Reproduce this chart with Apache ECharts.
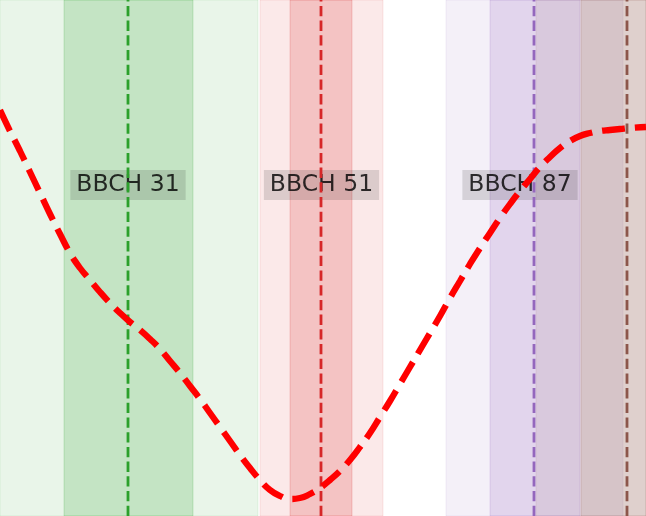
<!DOCTYPE html>
<html>
<head>
<meta charset="utf-8">
<script src="https://cdn.jsdelivr.net/npm/echarts@6/dist/echarts.min.js"></script>
<style>html,body{margin:0;padding:0;background:#fff;}#c{width:646px;height:516px;}</style>
</head>
<body>
<div id="c"></div>
<script>
// Curve (x position, value)
var curveX = [0,10,20,30,40,50,60,70,80,90,100,110,120,130,140,150,160,170,180,190,200,210,220,230,240,250,260,270,280,290,300,310,320,330,340,350,360,370,380,390,400,410,420,430,440,450,460,470,480,490,500,510,520,530,540,550,560,570,580,590,600,610,620,630,646];
var curvePix = [110,131,151,172,193,214,234,253,268,280,292,303,313,322,330,339,349,361,373,386,399,413,427,441,455,468,480,490,496,499,498,494,488,480,471,460,447,433,417,401,384,367,350,333,316,298,281,264,248,233,218,204,191,179,167,157,148,141,136,133,131,130,129,128,127];
var curveY = curvePix.map(function (p) { return 516 - p; });

// Growth stages
var stageNames = ["BBCH 31", "BBCH 51", "BBCH 87", ""];
var stageCenters = [128, 321, 534, 627];
var stageInner = [[64, 193], [290, 352], [490, 580], [581, 673]];
var stageOuter = [[-1, 258], [260, 383], [446, 623], [536, 718]];
var labelX = [128, 321.5, 520];
var labelY = [331, 331, 331];

var stageRGB = ["44,160,44", "214,39,40", "148,103,189", "140,86,75"];

var areas = [];
for (var i = 0; i < stageCenters.length; i++) {
  var c1 = 'rgba(' + stageRGB[i] + ',0.1)';
  var c2 = 'rgba(' + stageRGB[i] + ',0.2)';
  areas.push([{xAxis: stageOuter[i][0], itemStyle: {color: c1, borderColor: c1, borderWidth: 1}}, {xAxis: stageOuter[i][1]}]);
  areas.push([{xAxis: stageInner[i][0], itemStyle: {color: c2, borderColor: c2, borderWidth: 1}}, {xAxis: stageInner[i][1]}]);
}
var labelData = [];
for (var i = 0; i < labelX.length; i++) {
  labelData.push({value: [labelX[i], labelY[i]], name: stageNames[i]});
}
var curveData = curveX.map(function (x, i) { return [x, curveY[i]]; });

var series = [
  {
    type: 'line', data: [], z: 1, silent: true,
    markArea: {silent: true, data: areas}
  },
  {
    type: 'scatter', z: 2, symbolSize: 0, data: labelData, silent: true,
    label: {
      show: true, position: 'inside', formatter: '{b}',
      fontFamily: 'DejaVu Sans', fontSize: 23.5, color: '#000',
      textBorderWidth: 0, textShadowBlur: 0,
      backgroundColor: 'rgba(0,0,0,0.16)', padding: [4, 6, 4, 6], lineHeight: 22
    }
  }
];
for (var i = 0; i < stageCenters.length; i++) {
  series.push({
    type: 'line', z: 3, silent: true, symbol: 'none',
    data: [[stageCenters[i], 0], [stageCenters[i], 516]],
    lineStyle: {color: 'rgb(' + stageRGB[i] + ')', width: 2.8, type: [10.3, 4.4], cap: 'butt'}
  });
}
series.push({
  type: 'line', z: 4, data: curveData, smooth: true, symbol: 'none', silent: true,
  lineStyle: {color: '#ff0000', width: 6.3, type: [23, 10], cap: 'butt'}
});

var chart = echarts.init(document.getElementById('c'), null, {renderer: 'canvas'});
chart.setOption({
  animation: false,
  grid: {left: 0, right: 0, top: 0, bottom: 0},
  xAxis: {type: 'value', min: 0, max: 646, show: false},
  yAxis: {type: 'value', min: 0, max: 516, show: false},
  series: series
});
</script>
</body>
</html>
